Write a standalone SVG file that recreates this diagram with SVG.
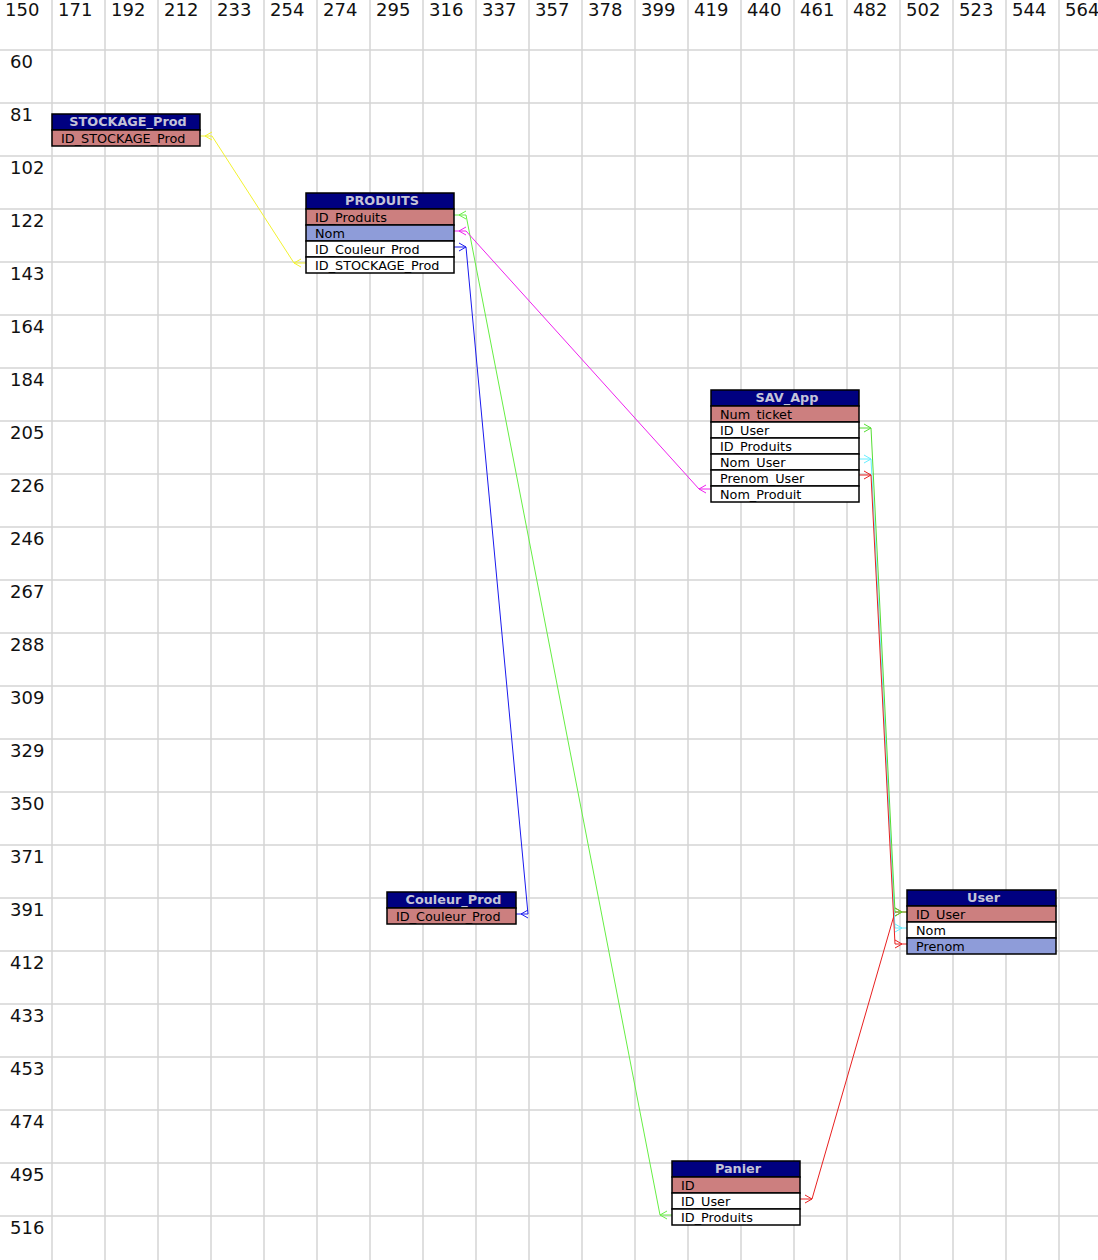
<svg xmlns="http://www.w3.org/2000/svg" width="1098" height="1260" viewBox="0 0 1098 1260">
<style>
.grid line{stroke:#d4d4d4;stroke-width:1.5}
.lbl{font-family:"DejaVu Sans",sans-serif;font-size:18px;fill:#111}
.hdr{fill:#000080;stroke:#000;stroke-width:1.5}
.htx{font-family:"DejaVu Sans",sans-serif;font-size:12.8px;font-weight:bold;fill:#c4c4d8;text-anchor:middle}
.pk{fill:#cc7f7f;stroke:#000;stroke-width:1.5}
.nm{fill:#8e9cd9;stroke:#000;stroke-width:1.5}
.wr{fill:#fff;stroke:#000;stroke-width:1.5}
.rtx{font-family:"DejaVu Sans",sans-serif;font-size:12.8px;fill:#000}
.cn path{fill:none;stroke-width:1}
</style>
<rect width="1098" height="1260" fill="#fff"/>
<g class="grid">
<line x1="52" y1="0" x2="52" y2="1260"/><line x1="105" y1="0" x2="105" y2="1260"/><line x1="158" y1="0" x2="158" y2="1260"/><line x1="211" y1="0" x2="211" y2="1260"/><line x1="264" y1="0" x2="264" y2="1260"/><line x1="317" y1="0" x2="317" y2="1260"/><line x1="370" y1="0" x2="370" y2="1260"/><line x1="423" y1="0" x2="423" y2="1260"/><line x1="476" y1="0" x2="476" y2="1260"/><line x1="529" y1="0" x2="529" y2="1260"/><line x1="582" y1="0" x2="582" y2="1260"/><line x1="635" y1="0" x2="635" y2="1260"/><line x1="688" y1="0" x2="688" y2="1260"/><line x1="741" y1="0" x2="741" y2="1260"/><line x1="794" y1="0" x2="794" y2="1260"/><line x1="847" y1="0" x2="847" y2="1260"/><line x1="900" y1="0" x2="900" y2="1260"/><line x1="953" y1="0" x2="953" y2="1260"/><line x1="1006" y1="0" x2="1006" y2="1260"/><line x1="1059" y1="0" x2="1059" y2="1260"/>
<line x1="0" y1="50" x2="1098" y2="50"/><line x1="0" y1="103" x2="1098" y2="103"/><line x1="0" y1="156" x2="1098" y2="156"/><line x1="0" y1="209" x2="1098" y2="209"/><line x1="0" y1="262" x2="1098" y2="262"/><line x1="0" y1="315" x2="1098" y2="315"/><line x1="0" y1="368" x2="1098" y2="368"/><line x1="0" y1="421" x2="1098" y2="421"/><line x1="0" y1="474" x2="1098" y2="474"/><line x1="0" y1="527" x2="1098" y2="527"/><line x1="0" y1="580" x2="1098" y2="580"/><line x1="0" y1="633" x2="1098" y2="633"/><line x1="0" y1="686" x2="1098" y2="686"/><line x1="0" y1="739" x2="1098" y2="739"/><line x1="0" y1="792" x2="1098" y2="792"/><line x1="0" y1="845" x2="1098" y2="845"/><line x1="0" y1="898" x2="1098" y2="898"/><line x1="0" y1="951" x2="1098" y2="951"/><line x1="0" y1="1004" x2="1098" y2="1004"/><line x1="0" y1="1057" x2="1098" y2="1057"/><line x1="0" y1="1110" x2="1098" y2="1110"/><line x1="0" y1="1163" x2="1098" y2="1163"/><line x1="0" y1="1216" x2="1098" y2="1216"/>
</g>
<g class="lbl">
<text x="5" y="16">150</text><text x="58" y="16">171</text><text x="111" y="16">192</text><text x="164" y="16">212</text><text x="217" y="16">233</text><text x="270" y="16">254</text><text x="323" y="16">274</text><text x="376" y="16">295</text><text x="429" y="16">316</text><text x="482" y="16">337</text><text x="535" y="16">357</text><text x="588" y="16">378</text><text x="641" y="16">399</text><text x="694" y="16">419</text><text x="747" y="16">440</text><text x="800" y="16">461</text><text x="853" y="16">482</text><text x="906" y="16">502</text><text x="959" y="16">523</text><text x="1012" y="16">544</text><text x="1065" y="16">564</text>
<text x="10" y="68">60</text><text x="10" y="121">81</text><text x="10" y="174">102</text><text x="10" y="227">122</text><text x="10" y="280">143</text><text x="10" y="333">164</text><text x="10" y="386">184</text><text x="10" y="439">205</text><text x="10" y="492">226</text><text x="10" y="545">246</text><text x="10" y="598">267</text><text x="10" y="651">288</text><text x="10" y="704">309</text><text x="10" y="757">329</text><text x="10" y="810">350</text><text x="10" y="863">371</text><text x="10" y="916">391</text><text x="10" y="969">412</text><text x="10" y="1022">433</text><text x="10" y="1075">453</text><text x="10" y="1128">474</text><text x="10" y="1181">495</text><text x="10" y="1234">516</text>
</g>
<g class="cn">
<path stroke="#f2f230" d="M306,263 H294 L212,136 H200 M301,259 L294,263 L301,267 M212,132 L205,136 L212,140"/>
<path stroke="#1a1aee" d="M454,247 H466 L528,914 H516 M459,243 L466,247 L459,251 M528,910 L521,914 L528,918"/>
<path stroke="#66ee44" d="M672,1215 H660 L466,215 H454 M667,1211 L660,1215 L667,1219 M466,211 L459,215 L466,219"/>
<path stroke="#ee22ee" d="M711,489 H699 L466,231 H454 M706,485 L699,489 L706,493 M466,227 L459,231 L466,235"/>
<path stroke="#e82020" d="M800,1199 H812 L895,912 H907 M805,1195 L812,1199 L805,1203 M895,908 L902,912 L895,916"/>
<path stroke="#66eeff" d="M859,459 H871 L895,928 H907 M864,455 L871,459 L864,463 M895,924 L902,928 L895,932"/>
<path stroke="#e82020" d="M859,475 H871 L895,944 H907 M864,471 L871,475 L864,479 M895,940 L902,944 L895,948"/>
<path stroke="#55dd33" d="M859,428 H871 L895,912 H907 M864,424 L871,428 L864,432 M895,908 L902,912 L895,916"/>
</g>
<g id="STOCKAGE_Prod">
<rect class="hdr" x="52" y="114" width="148" height="16"/><text class="htx" x="128" y="125.5">STOCKAGE_Prod</text>
<rect class="pk" x="52" y="130" width="148" height="16"/><text class="rtx" x="61" y="142.5">ID_STOCKAGE_Prod</text>
</g>
<g id="PRODUITS">
<rect class="hdr" x="306" y="193" width="148" height="16"/><text class="htx" x="382" y="204.5">PRODUITS</text>
<rect class="pk" x="306" y="209" width="148" height="16"/><text class="rtx" x="315" y="221.5">ID_Produits</text>
<rect class="nm" x="306" y="225" width="148" height="16"/><text class="rtx" x="315" y="237.5">Nom</text>
<rect class="wr" x="306" y="241" width="148" height="16"/><text class="rtx" x="315" y="253.5">ID_Couleur_Prod</text>
<rect class="wr" x="306" y="257" width="148" height="16"/><text class="rtx" x="315" y="269.5">ID_STOCKAGE_Prod</text>
</g>
<g id="SAV_App">
<rect class="hdr" x="711" y="390" width="148" height="16"/><text class="htx" x="787" y="401.5">SAV_App</text>
<rect class="pk" x="711" y="406" width="148" height="16"/><text class="rtx" x="720" y="418.5">Num_ticket</text>
<rect class="wr" x="711" y="422" width="148" height="16"/><text class="rtx" x="720" y="434.5">ID_User</text>
<rect class="wr" x="711" y="438" width="148" height="16"/><text class="rtx" x="720" y="450.5">ID_Produits</text>
<rect class="wr" x="711" y="454" width="148" height="16"/><text class="rtx" x="720" y="466.5">Nom_User</text>
<rect class="wr" x="711" y="470" width="148" height="16"/><text class="rtx" x="720" y="482.5">Prenom_User</text>
<rect class="wr" x="711" y="486" width="148" height="16"/><text class="rtx" x="720" y="498.5">Nom_Produit</text>
</g>
<g id="Couleur_Prod">
<rect class="hdr" x="387" y="892" width="129" height="16"/><text class="htx" x="453.5" y="903.5">Couleur_Prod</text>
<rect class="pk" x="387" y="908" width="129" height="16"/><text class="rtx" x="396" y="920.5">ID_Couleur_Prod</text>
</g>
<g id="User">
<rect class="hdr" x="907" y="890" width="149" height="16"/><text class="htx" x="983.5" y="901.5">User</text>
<rect class="pk" x="907" y="906" width="149" height="16"/><text class="rtx" x="916" y="918.5">ID_User</text>
<rect class="wr" x="907" y="922" width="149" height="16"/><text class="rtx" x="916" y="934.5">Nom</text>
<rect class="nm" x="907" y="938" width="149" height="16"/><text class="rtx" x="916" y="950.5">Prenom</text>
</g>
<g id="Panier">
<rect class="hdr" x="672" y="1161" width="128" height="16"/><text class="htx" x="738" y="1172.5">Panier</text>
<rect class="pk" x="672" y="1177" width="128" height="16"/><text class="rtx" x="681" y="1189.5">ID</text>
<rect class="wr" x="672" y="1193" width="128" height="16"/><text class="rtx" x="681" y="1205.5">ID_User</text>
<rect class="wr" x="672" y="1209" width="128" height="16"/><text class="rtx" x="681" y="1221.5">ID_Produits</text>
</g>
</svg>
